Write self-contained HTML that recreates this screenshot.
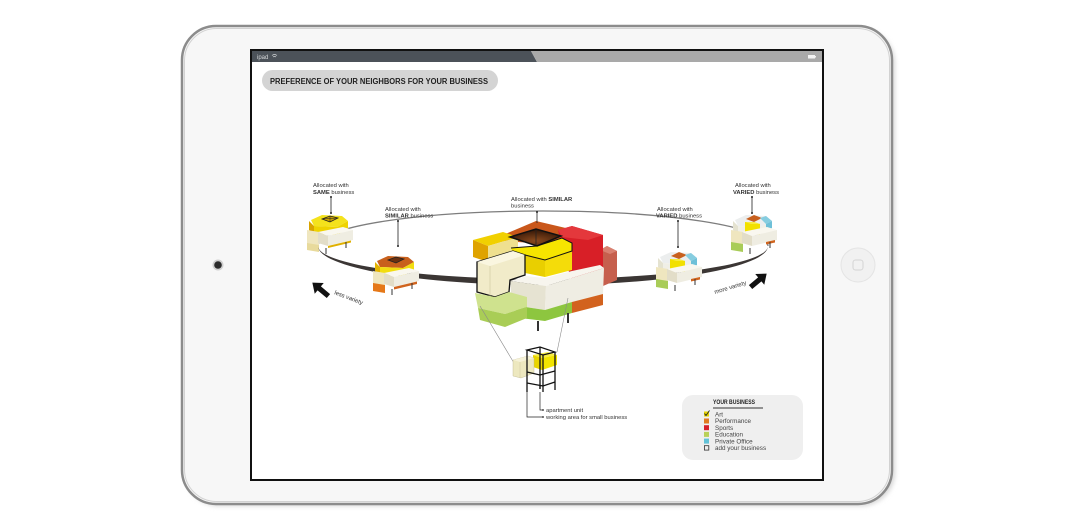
<!DOCTYPE html>
<html>
<head>
<meta charset="utf-8">
<style>
  html,body{margin:0;padding:0;background:#fff;}
  body{width:1080px;height:515px;overflow:hidden;}
  svg{display:block;}
  text{font-family:"Liberation Sans",sans-serif;}
</style>
</head>
<body>
<svg width="1080" height="515" viewBox="0 0 1080 515" xmlns="http://www.w3.org/2000/svg">
  <defs>
    <filter id="blur" x="-5%" y="-5%" width="110%" height="110%"><feGaussianBlur stdDeviation="2.5"/></filter>
    <radialGradient id="hole" cx="50%" cy="70%" r="60%">
      <stop offset="0" stop-color="#8a4a1e"/>
      <stop offset="1" stop-color="#3a1a08"/>
    </radialGradient>
  </defs>

  <!-- iPad body -->
  <rect x="185" y="29" width="710" height="477" rx="34" fill="#d6d6d6" filter="url(#blur)"/>
  <rect x="182" y="26" width="710" height="478" rx="34" fill="#f7f7f7" stroke="#8c8c8c" stroke-width="2.5"/>
  <rect x="184.5" y="28.5" width="705" height="473" rx="32" fill="none" stroke="#d2d2d2" stroke-width="1"/>

  <!-- camera -->
  <circle cx="218" cy="265" r="5.5" fill="#cfcfcf"/>
  <circle cx="218" cy="265" r="3.8" fill="#2b2b2b"/>
  <!-- home button -->
  <circle cx="858" cy="265" r="17" fill="#f1f1f1" stroke="#e4e4e4" stroke-width="1"/>
  <rect x="853" y="260" width="10" height="10" rx="2.5" fill="none" stroke="#d4d4d4" stroke-width="1"/>

  <!-- screen -->
  <rect x="251" y="50" width="572" height="430" fill="#fff" stroke="#111" stroke-width="2"/>
  <!-- status bar -->
  <polygon points="252,51 531,51 537,62 252,62" fill="#4c5259"/>
  <polygon points="531,51 822,51 822,62 537,62" fill="#a9a9a9"/>
  <text x="257" y="59" font-size="6" fill="#d6d8da">ipad</text>
  <path d="M272,55.5 q2.5,-2 5,0 M273,57 q1.5,-1 3,0" stroke="#d6d8da" stroke-width="0.7" fill="none"/>
  <rect x="808" y="55" width="7" height="3.5" fill="#f2f2f2"/>
  <rect x="815" y="56" width="1" height="1.5" fill="#f2f2f2"/>

  <!-- title pill -->
  <rect x="262" y="70" width="236" height="21" rx="10.5" fill="#d4d4d4"/>
  <text x="270" y="84" font-size="8.6" font-weight="bold" fill="#222" textLength="218" lengthAdjust="spacingAndGlyphs">PREFERENCE OF YOUR NEIGHBORS FOR YOUR BUSINESS</text>

  <!-- ring back -->
  <path d="M318,246 A225,35 0 0 1 768,246" fill="none" stroke="#7d7d7d" stroke-width="1.3"/>

  <!-- Cluster 1 (SAME) -->
  <g transform="translate(306,214)">
    <polygon points="3,7 8,12 8,20 3,16" fill="#d9a400"/>
    <polygon points="5,6 16,1 36,2 42,7 31,13 8,12" fill="#f4e21c"/>
    <polygon points="16,5 24,2 32,4 24,8" fill="#c9a000" stroke="#222" stroke-width="0.8"/>
    <path d="M16,5 L32,4 M24,2 L24,8" stroke="#222" stroke-width="0.5"/>
    <polygon points="8,12 31,13 42,7 42,15 31,21 8,20" fill="#eed300"/>
    <polygon points="1,16 13,18 13,32 1,30" fill="#efe6bf"/>
    <polygon points="12,18 37,13 47,16 22,22" fill="#f9f7ef"/>
    <polygon points="22,22 47,16 47,26 22,32" fill="#efede2"/>
    <polygon points="12,18 22,22 22,32 12,29" fill="#e2ddc8"/>
    <polygon points="1,29 13,31 13,38 1,36" fill="#e8da9c"/>
    <polygon points="22,32 45,26.5 45,28.5 22,34" fill="#e0b000"/>
    <path d="M20,34 V40 M40,28 V34" stroke="#333" stroke-width="1"/>
  </g>
  <!-- Cluster 4 (VARIED right) -->
  <g transform="translate(730,214)">
    <polygon points="3,7 8,12 8,20 3,16" fill="#e4e2d0"/>
    <polygon points="5,6 16,1 36,2 42,7 31,13 8,12" fill="#eceeee"/>
    <polygon points="16,5 24,1 32,4 24,8" fill="#c8601e"/>
    <polygon points="30,4 36,2 42,7 36,10" fill="#86cde0"/>
    <polygon points="36,10 42,7 42,14 36,17" fill="#6ec0d8"/>
    <polygon points="8,12 31,13 36,10 36,17 31,21 8,20" fill="#f0efe6"/>
    <polygon points="15,8 24,8 30,10 30,21 15,19" fill="#f2e000"/>
    <polygon points="15,8 24,8 30,10 21,10" fill="#f7ec40"/>
    <polygon points="1,16 13,18 13,32 1,30" fill="#efe6bf"/>
    <polygon points="12,18 37,13 47,16 22,22" fill="#f9f7ef"/>
    <polygon points="22,22 47,16 47,26 22,32" fill="#efede2"/>
    <polygon points="12,18 22,22 22,32 12,29" fill="#e2ddc8"/>
    <polygon points="1,28 13,30 13,38 1,36" fill="#a9cc58"/>
    <polygon points="36,28 45,26 45,28.5 36,30.5" fill="#d0641e"/>
    <path d="M20,34 V40 M40,28 V34" stroke="#333" stroke-width="1"/>
  </g>

  <!-- ring front -->
  <path d="M318,246 A225,39 0 0 0 768,246 A225,33 0 0 1 318,246 Z" fill="#3b3634"/>

  <!-- Cluster 2 (SIMILAR) -->
  <g transform="translate(372,255)">
    <polygon points="3,7 8,12 8,20 3,16" fill="#e4b400"/>
    <polygon points="5,6 16,1 36,2 42,7 31,13 8,12" fill="#c8601c"/>
    <polygon points="16,5 24,2 32,4 24,8" fill="#6a3010" stroke="#222" stroke-width="0.8"/>
    <polygon points="8,12 31,13 42,7 42,15 31,21 8,20" fill="#f2dd10"/>
    <polygon points="1,16 13,18 13,32 1,30" fill="#efe6bf"/>
    <polygon points="12,18 37,13 47,16 22,22" fill="#f9f7ef"/>
    <polygon points="22,22 47,16 47,26 22,32" fill="#efede2"/>
    <polygon points="12,18 22,22 22,32 12,29" fill="#e2ddc8"/>
    <polygon points="1,28 13,30 13,38 1,36" fill="#e57818"/>
    <polygon points="22,32 45,26.5 45,29 22,34.5" fill="#d0641e"/>
    <path d="M20,34 V40 M40,28 V34" stroke="#333" stroke-width="1"/>
  </g>
  <!-- Cluster 3 (VARIED) -->
  <g transform="translate(655,251)">
    <polygon points="3,7 8,12 8,20 3,16" fill="#e4e2d0"/>
    <polygon points="5,6 16,1 36,2 42,7 31,13 8,12" fill="#eceeee"/>
    <polygon points="16,5 24,1 32,4 24,8" fill="#c8601e"/>
    <polygon points="30,4 36,2 42,7 36,10" fill="#86cde0"/>
    <polygon points="36,10 42,7 42,14 36,17" fill="#6ec0d8"/>
    <polygon points="8,12 31,13 36,10 36,17 31,21 8,20" fill="#f0efe6"/>
    <polygon points="15,8 24,8 30,10 30,21 15,19" fill="#f2e000"/>
    <polygon points="15,8 24,8 30,10 21,10" fill="#f7ec40"/>
    <polygon points="1,16 13,18 13,32 1,30" fill="#efe6bf"/>
    <polygon points="12,18 37,13 47,16 22,22" fill="#f9f7ef"/>
    <polygon points="22,22 47,16 47,26 22,32" fill="#efede2"/>
    <polygon points="12,18 22,22 22,32 12,29" fill="#e2ddc8"/>
    <polygon points="1,28 13,30 13,38 1,36" fill="#a9cc58"/>
    <polygon points="36,28 45,26 45,28.5 36,30.5" fill="#d0641e"/>
    <path d="M20,34 V40 M40,28 V34" stroke="#333" stroke-width="1"/>
  </g>

  <!-- Center building -->
  <g>
    <!-- salmon block -->
    <polygon points="600,250 607,246 617,251 617,280 603,286 600,284" fill="#c65f4d"/>
    <polygon points="600,250 607,246 617,251 610,254" fill="#d98070"/>
    <!-- orange top back -->
    <polygon points="503,235 536,221 570,229 570,237 548,244 503,241" fill="#c9571b"/>
    <!-- red -->
    <polygon points="558,230 572,226 603,235 603,272 572,281 565,260" fill="#d81f27"/>
    <polygon points="558,230 572,226 603,235 588,240 562,237" fill="#e4383c"/>
    <!-- yellow left -->
    <polygon points="473,240 503,232 518,237 488,246" fill="#f1d000"/>
    <polygon points="473,240 488,246 488,262 473,257" fill="#dfa300"/>
    <polygon points="488,246 518,237 518,253 488,262" fill="#efe08f"/>
    <!-- yellow center -->
    <polygon points="511,248 537,246 562,238 572,243 572,251 545,260 513,252" fill="#f6e500"/>
    <polygon points="525,255 545,260 545,277 525,273" fill="#e9cf00"/>
    <polygon points="545,260 572,251 572,270 545,277" fill="#f4dc0a"/>
    <!-- hole -->
    <polygon points="510,237 536,229 561,236 537,246" fill="url(#hole)" stroke="#111" stroke-width="1.5"/>
    <path d="M536,230 V245" stroke="#222" stroke-width="0.8"/>
    <path d="M511,248 L537,246 L562,238 L572,243 L572,251 L545,260 L525,255" fill="none" stroke="#111" stroke-width="1"/>
    <!-- white block -->
    <polygon points="510,281 526,276 545,278 572,271 600,265 604,268 546,286" fill="#f7f5ee"/>
    <polygon points="510,281 546,286 545,310 512,305" fill="#e6e3d2"/>
    <polygon points="546,286 604,268 603,294 545,310" fill="#efede3"/>
    <!-- strips under white -->
    <polygon points="545,310 572,302 572,313 545,321" fill="#8dc63f"/>
    <polygon points="572,302 603,294 603,305 572,313" fill="#d2621e"/>
    <polygon points="512,305 545,310 545,321 520,318" fill="#8dc63f"/>
    <!-- cream L -->
    <polygon points="477,262 513,251 525,255 525,275 510,280 509,292 495,297 477,292" fill="#f1ebc9" stroke="#111" stroke-width="1.3"/>
    <polygon points="477,262 513,251 525,255 490,266" fill="#faf6e0"/>
    <path d="M490,266 V296" stroke="#cfc8a0" stroke-width="0.6"/>
    <!-- green -->
    <polygon points="475,293 495,297 509,292 527,297 527,307 505,314 478,308" fill="#cfe28e"/>
    <polygon points="478,308 505,314 527,307 527,318 505,327 480,320" fill="#a9cd56"/>
    <!-- legs -->
    <path d="M538,321 V331 M568,313 V323" stroke="#333" stroke-width="2"/>
  </g>

  <!-- lines to unit -->
  <path d="M480,306 L514,363 M568,298 L557,352" stroke="#8a8a8a" stroke-width="0.6" fill="none"/>

  <!-- Bottom unit -->
  <g>
    <polygon points="533,355 548,352 557,355 542,358" fill="#f7ec40"/>
    <polygon points="533,355 542,358 542,370 533,367" fill="#e9d500"/>
    <polygon points="542,358 557,355 557,365 542,370" fill="#f2e400"/>
    <polygon points="513,360 528,356 534,358 534,373 521,378 513,376" fill="#ede8bf" stroke="#bdb68a" stroke-width="0.4"/>
    <polygon points="513,360 528,356 534,358 520,362" fill="#f6f2d8"/>
    <path d="M520,362 V378" stroke="#cfc8a0" stroke-width="0.5"/>
    <path d="M527,350 V392 M540,347 V389 M555,352 V390 M543,355 V392" stroke="#111" stroke-width="1.3" fill="none"/>
    <path d="M527,350 L540,347 L555,352 L543,355 Z" stroke="#111" stroke-width="1.2" fill="none"/>
    <path d="M527,372 L540,375 L555,371 M527,383 L543,386 L555,382 M540,386 L540,389" stroke="#111" stroke-width="1.2" fill="none"/>
    <path d="M540,392 V410 H543 M527,392 V417 H543" stroke="#222" stroke-width="0.7" fill="none"/>
    <circle cx="543" cy="410" r="0.9" fill="#222"/>
    <circle cx="543" cy="417" r="0.9" fill="#222"/>
    <text x="546" y="412" font-size="5.8" fill="#333">apartment unit</text>
    <text x="546" y="419" font-size="5.8" fill="#333">working area for small business</text>
  </g>

  <!-- labels -->
  <g font-size="5.8" fill="#333">
    <text x="313" y="187">Allocated with</text>
    <text x="313" y="194"><tspan font-weight="bold">SAME</tspan> business</text>
    <text x="385" y="211">Allocated with</text>
    <text x="385" y="217.5"><tspan font-weight="bold">SIMILAR</tspan> business</text>
    <text x="511" y="201">Allocated with <tspan font-weight="bold">SIMILAR</tspan></text>
    <text x="511" y="207.5">business</text>
    <text x="657" y="211">Allocated with</text>
    <text x="656" y="217.5"><tspan font-weight="bold">VARIED</tspan> business</text>
    <text x="735" y="187">Allocated with</text>
    <text x="733" y="194"><tspan font-weight="bold">VARIED</tspan> business</text>
  </g>
  <g stroke="#222" stroke-width="0.8">
    <path d="M331,197 V213 M398,221 V246 M537,212 V223 M678,221 V247 M752,197 V213"/>
  </g>
  <g fill="#222">
    <circle cx="331" cy="197" r="1"/><circle cx="331" cy="213" r="1"/>
    <circle cx="398" cy="221" r="1"/><circle cx="398" cy="246" r="1"/>
    <circle cx="537" cy="212" r="1"/>
    <circle cx="678" cy="221" r="1"/><circle cx="678" cy="247" r="1"/>
    <circle cx="752" cy="197" r="1"/><circle cx="752" cy="213" r="1"/>
  </g>

  <!-- variety arrows -->
  <g transform="translate(320,289) rotate(-140)">
    <polygon points="-11,-2.6 1,-2.6 1,-7 10,0 1,7 1,2.6 -11,2.6" fill="#111"/>
  </g>
  <text x="334" y="294" font-size="6" fill="#333" transform="rotate(21 334 294)">less variety</text>
  <g transform="translate(759,280) rotate(-40)">
    <polygon points="-11,-2.6 1,-2.6 1,-7 10,0 1,7 1,2.6 -11,2.6" fill="#111"/>
  </g>
  <text x="715" y="294" font-size="6" fill="#333" transform="rotate(-17 715 294)">more variety</text>

  <!-- legend -->
  <rect x="682" y="395" width="121" height="65" rx="11" fill="#efefef"/>
  <text x="713" y="404" font-size="6" font-weight="bold" fill="#222" textLength="42" lengthAdjust="spacingAndGlyphs">YOUR BUSINESS</text>
  <path d="M713,408 H763" stroke="#333" stroke-width="1"/>
  <g font-size="6.3" fill="#444">
    <rect x="704" y="411.5" width="5" height="5" fill="#e6d400"/>
    <path d="M704.5,413.5 L706,415.5 L709.5,410.5" stroke="#222" stroke-width="0.9" fill="none"/>
    <text x="715" y="416.5">Art</text>
    <rect x="704" y="418.5" width="5" height="5" fill="#e07a20"/>
    <text x="715" y="423.2">Performance</text>
    <rect x="704" y="425.2" width="5" height="5" fill="#d6202a"/>
    <text x="715" y="429.9">Sports</text>
    <rect x="704" y="431.9" width="5" height="5" fill="#b9d15a"/>
    <text x="715" y="436.6">Education</text>
    <rect x="704" y="438.6" width="5" height="5" fill="#62c2d8"/>
    <text x="715" y="443.3">Private Office</text>
    <rect x="704.4" y="445.7" width="4.4" height="4.4" fill="none" stroke="#333" stroke-width="0.8"/>
    <text x="715" y="450">add your business</text>
  </g>
</svg>
</body>
</html>
